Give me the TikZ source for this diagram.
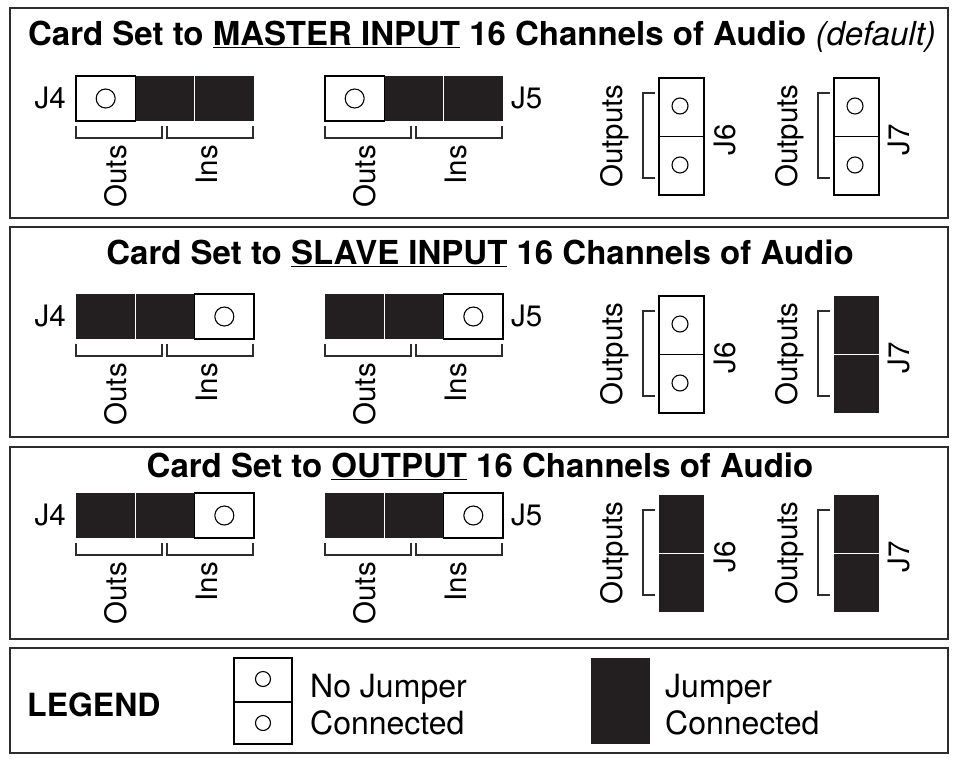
\documentclass[tikz,border=0pt]{standalone}
\usepackage{fontspec}
\setmainfont{TeX Gyre Heros}
\usepackage{tikz}
\definecolor{jblack}{RGB}{35,31,32}
\definecolor{framegray}{RGB}{45,45,45}
\newcommand{\pinrow}[3]{%
  \fill[jblack] (#1,#2) rectangle ++(178,45);
  \foreach \k in {1,2} \draw[sep] (#1+59.33*\k,#2) -- ++(0,45);
  \draw[cell,fill=white] (#1+59.33*#3,#2) rectangle ++(59.33,45);
  \draw[hole] (#1+59.33*#3+29.67,#2+22.5) circle[radius=9.5];
  \draw[brk] (#1,#2+50) -- ++(0,12) -- ++(86,0) -- ++(0,-12);
  \draw[brk] (#1+91,#2+50) -- ++(0,12) -- ++(86,0) -- ++(0,-12);
}
\newcommand{\pincol}[3]{%
  \ifnum#3=1
    \fill[jblack] (#1,#2) rectangle ++(45,117);
    \draw[sep] (#1,#2+58.5) -- ++(45,0);
  \else
    \draw[cell,fill=white] (#1,#2) rectangle ++(45,117);
    \draw[cell] (#1,#2+58.5) -- ++(45,0);
    \draw[hole] (#1+21,#2+28) circle[radius=8];
    \draw[hole] (#1+21,#2+87) circle[radius=8];
  \fi
  \draw[brk] (#1-4,#2+15) -- ++(-12,0) -- ++(0,85) -- ++(12,0);
}

\begin{document}
\begin{tikzpicture}[x=1pt,y=-1pt,
  panel/.style={draw=framegray,line width=2pt},
  cell/.style={draw=black,line width=1.2pt},
  sep/.style={draw=white,line width=1pt},
  hole/.style={draw=black,line width=1.1pt},
  brk/.style={draw=framegray,line width=1.6pt},
  title/.style={font=\fontsize{33}{39}\selectfont\bfseries,inner sep=0pt,anchor=base},
  lbl/.style={font=\fontsize{29.5}{35}\selectfont,inner sep=0pt},
  leg/.style={font=\fontsize{32}{38}\selectfont,inner sep=0pt,anchor=base west}]
\useasboundingbox (0,0) rectangle (955,761);
\fill[white] (0,0) rectangle (955,761);
\foreach \t/\b in {8/218,227/437,447/639,648/753}
  \draw[panel] (10,\t) rectangle (948,\b);

\node[title] (T1) at (482,45) {Card Set to \underline{MASTER INPUT} 16 Channels of Audio {\mdseries\itshape (default)}};
\node[title] (T2) at (480,264) {Card Set to \underline{SLAVE INPUT} 16 Channels of Audio};
\node[title] (T3) at (480,477) {Card Set to \underline{OUTPUT} 16 Channels of Audio};

\foreach \p/\r/\w/\c/\d in {1/76/0/0/0,2/294/2/0/1,3/493/2/1/1} {
  \pinrow{76}{\r}{\w}
  \pinrow{325}{\r}{\w}
  \pincol{659}{\r+2}{\c}
  \pincol{834}{\r+2}{\d}
  \node[lbl,anchor=base east] (J4\p) at (66,\r+32.5) {J4};
  \node[lbl,anchor=base west] (J5\p) at (511,\r+32.5) {J5};
  \node[lbl,rotate=90,anchor=base east] (OA\p) at (126,\r+69) {Outs};
  \node[lbl,rotate=90,anchor=base east] (IA\p) at (217,\r+69) {Ins};
  \node[lbl,rotate=90,anchor=base east] (OB\p) at (375,\r+69) {Outs};
  \node[lbl,rotate=90,anchor=base east] (IB\p) at (466,\r+69) {Ins};
  \node[lbl,rotate=90,anchor=base] (OC\p) at (622,\r+60) {Outputs};
  \node[lbl,rotate=90,anchor=base] (J6\p) at (735,\r+64) {J6};
  \node[lbl,rotate=90,anchor=base] (OD\p) at (797,\r+60) {Outputs};
  \node[lbl,rotate=90,anchor=base] (J7\p) at (909,\r+64) {J7};
}

\node[leg,font=\fontsize{32}{38}\selectfont\bfseries] (LEG) at (27,716) {LEGEND};
\draw[cell,fill=white] (234,658) rectangle (292,744);
\draw[cell] (234,702) -- (292,702);
\draw[hole] (263,679) circle[radius=7.5];
\draw[hole] (263,723) circle[radius=7.5];
\node[leg] (NJ1) at (310,697) {No Jumper};
\node[leg] (NJ2) at (310,734) {Connected};
\fill[jblack] (591,658) rectangle (650,744);
\node[leg] (JC1) at (665,697) {Jumper};
\node[leg] (JC2) at (665,734) {Connected};
\end{tikzpicture}
\end{document}
